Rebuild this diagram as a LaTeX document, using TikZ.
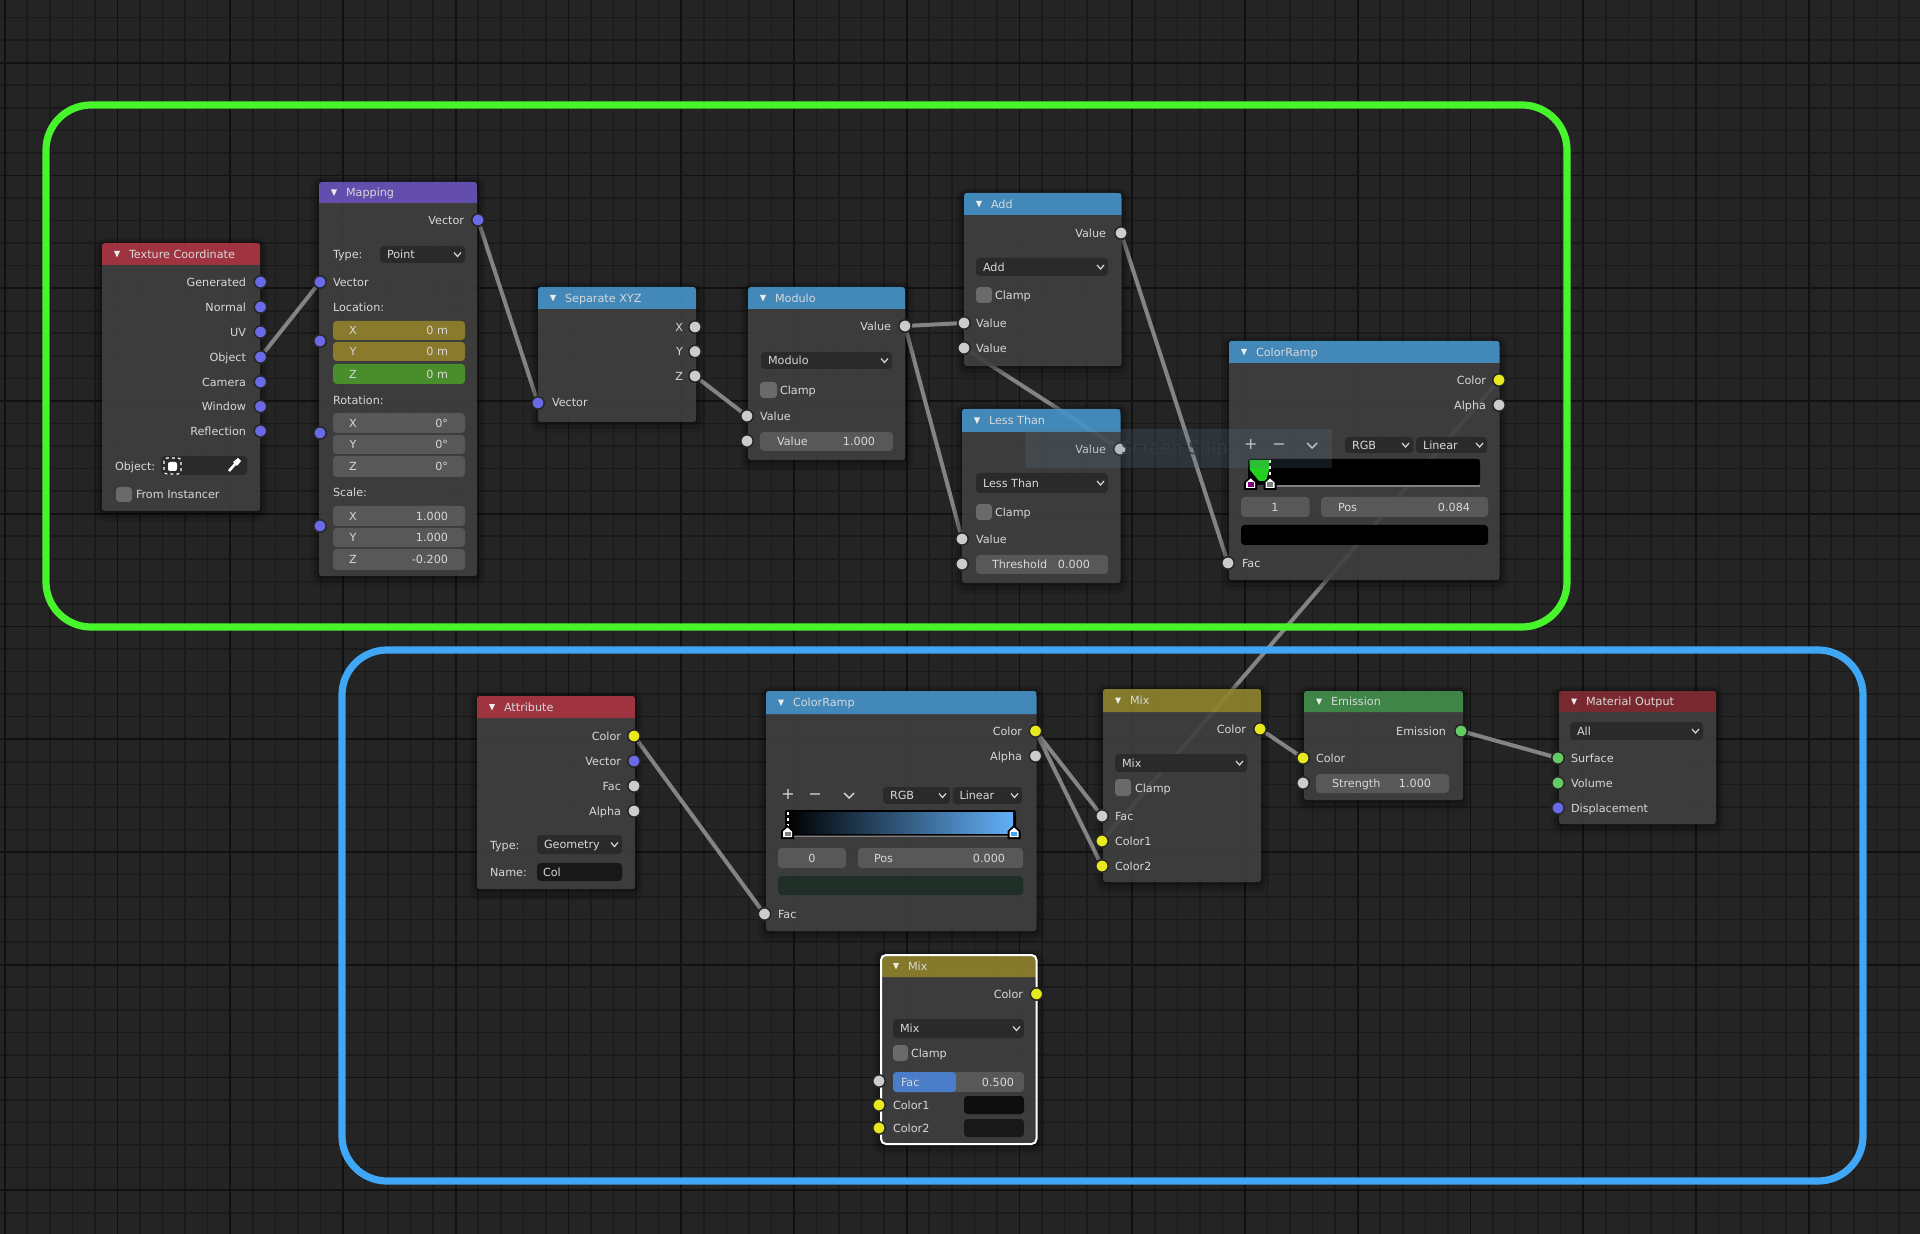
\documentclass[tikz,border=0pt]{standalone}
\usepackage{fontspec}
\setmainfont{DejaVu Sans}
\pgfdeclarelayer{wires}
\pgfsetlayers{wires,main}
\definecolor{bgc}{HTML}{242424}
\definecolor{minorc}{HTML}{1A1A1A}
\definecolor{majorc}{HTML}{111111}
\definecolor{bodyc}{HTML}{444444}
\definecolor{fieldc}{HTML}{585858}
\definecolor{dropc}{HTML}{2A2A2A}
\definecolor{checkc}{HTML}{6A6A6A}
\definecolor{wirec}{HTML}{848484}
\definecolor{txtc}{HTML}{D8D8D8}
\definecolor{redh}{HTML}{B83848}
\definecolor{purph}{HTML}{7058C6}
\definecolor{blueh}{HTML}{4A9CD4}
\definecolor{yelh}{HTML}{988A30}
\definecolor{greenh}{HTML}{469850}
\definecolor{darkredh}{HTML}{8A2E36}
\definecolor{sockv}{HTML}{6A6AE6}
\definecolor{sockg}{HTML}{CCCCCC}
\definecolor{socky}{HTML}{E8E81E}
\definecolor{socks}{HTML}{62CC62}
\definecolor{frameg}{HTML}{48F52C}
\definecolor{frameb}{HTML}{40A6F6}
\definecolor{yelf}{HTML}{8A7A2C}
\definecolor{greenf}{HTML}{4A8E2C}
\definecolor{barc}{HTML}{1F2F28}
\definecolor{facc}{HTML}{4A7CC8}
\definecolor{rampg}{HTML}{22D020}
\definecolor{rampb}{HTML}{62B0F8}
\definecolor{rampm}{HTML}{3E7FB8}
\definecolor{swa}{HTML}{0E0E0E}
\definecolor{swb}{HTML}{181818}
\definecolor{inkc}{HTML}{343A40}
\definecolor{snipc}{HTML}{5A7890}
\newcounter{tcnt}
\tikzset{
  minorline/.style={draw=minorc,line width=.8pt},
  majorline/.style={draw=majorc,line width=.9pt},
  txt/.style={inner sep=0pt,outer sep=0pt,text=txtc,font=\fontsize{5.6}{6}\selectfont},
  sock/.style={circle,inner sep=0pt,minimum size=6.2pt,draw=black!85,line width=.75pt},
  wire/.style={draw=wirec,line width=2pt},
  chev/.style={draw=txtc,line width=.6pt},
  frame/.style={line width=3.6pt,rounded corners=22.5pt}
}
\newcommand{\tL}[3]{\stepcounter{tcnt}\node[txt,anchor=mid west] (t\arabic{tcnt}) at ({#1},{#2-1}) {#3};}
\newcommand{\tR}[3]{\stepcounter{tcnt}\node[txt,anchor=mid east] (t\arabic{tcnt}) at ({#1},{#2-1}) {#3};}
\newcommand{\tC}[3]{\stepcounter{tcnt}\node[txt,anchor=mid] (t\arabic{tcnt}) at ({#1},{#2-1}) {#3};}
\newcommand{\wid}[5]{\fill[#5,rounded corners=1.8pt] (#1,#2) rectangle (#3,#4);}
% id x0 y0 x1 y1 headerbottom colour title
\newcommand{\bnode}[8]{%
  \fill[black,opacity=.10,rounded corners=5pt] (#2-8,#3-5) rectangle (#4+8,#5+11);
  \fill[black,opacity=.14,rounded corners=4pt] (#2-5,#3-3) rectangle (#4+5,#5+7);
  \fill[black,opacity=.20,rounded corners=3pt] (#2-2,#3-1) rectangle (#4+2,#5+3);
  \fill[bodyc,fill opacity=.84] (#2,#6) -- (#2,#5-6) .. controls (#2,#5) .. (#2+6,#5) -- (#4-6,#5) .. controls (#4,#5) .. (#4,#5-6) -- (#4,#6) -- cycle;
  \fill[#7,fill opacity=.86] (#2,#6) -- (#2,#3+6) .. controls (#2,#3) .. (#2+6,#3) -- (#4-6,#3) .. controls (#4,#3) .. (#4,#3+6) -- (#4,#6) -- cycle;
  \fill[white!92!black] (#2+12,{(#3+#6)/2-3}) -- (#2+18,{(#3+#6)/2-3}) -- (#2+15,{(#3+#6)/2+3.5}) -- cycle;
  \node[txt,anchor=mid west] (#1-title) at (#2+27,{(#3+#6)/2-1}) {#8};
}
\newcommand{\ddown}[5]{%
  \wid{#1}{#2}{#3}{#4}{dropc}
  \tL{#1+7}{(#2+#4)/2}{#5}
  \draw[chev] (#3-11,{(#2+#4)/2-2}) -- (#3-7.5,{(#2+#4)/2+2}) -- (#3-4,{(#2+#4)/2-2});
}
\newcommand{\ffield}[8]{%
  \wid{#1}{#2}{#3}{#4}{fieldc}
  \tL{#6}{(#2+#4)/2}{#5}
  \tR{#8}{(#2+#4)/2}{#7}
}
\newcommand{\mfield}[5]{%
  \wid{333}{#1}{465}{#2}{#5}
  \tC{353}{(#1+#2)/2}{#3}
  \tR{448}{(#1+#2)/2}{#4}
}
\newcommand{\chk}[4]{\wid{#1}{#2}{#3}{#4}{checkc}}
\newcommand{\sock}[4]{\node[sock,fill=#4] (#1) at (#2,#3) {};}
\newcommand{\rhandle}[3]{%
  \fill[black] (#1-6.5,#2+1) -- (#1-6.5,#2-7) -- (#1,#2-13) -- (#1+6.5,#2-7) -- (#1+6.5,#2+1) -- cycle;
  \fill[white] (#1-4.5,#2-1) -- (#1-4.5,#2-6.5) -- (#1,#2-10.5) -- (#1+4.5,#2-6.5) -- (#1+4.5,#2-1) -- cycle;
  \fill[#3] (#1-3,#2-2) rectangle (#1+3,#2-6.5);
}
\begin{document}
\begin{tikzpicture}[x=0.5pt,y=-0.5pt]
\useasboundingbox (0,0) rectangle (1920,1234);
\begin{pgfonlayer}{wires}
\fill[bgc] (0,0) rectangle (1920,1234);
\foreach \k in {0,...,85} \draw[minorline] ({4.7+22.55*\k},0) -- ({4.7+22.55*\k},1234);
\foreach \k in {3,...,57} \draw[minorline] (0,{-50.05+22.55*\k}) -- (1920,{-50.05+22.55*\k});
\foreach \k in {0,...,17} \draw[majorline] ({4.7+112.75*\k},0) -- ({4.7+112.75*\k},1234);
\foreach \k in {1,...,11} \draw[majorline] (0,{-50.05+112.75*\k}) -- (1920,{-50.05+112.75*\k});
\end{pgfonlayer}

% Texture Coordinate
\bnode{tc}{102}{243}{260}{511}{265}{redh}{Texture Coordinate}
\tR{246}{282}{Generated}\tR{246}{307}{Normal}\tR{246}{332}{UV}\tR{246}{357}{Object}
\tR{246}{382}{Camera}\tR{246}{406.5}{Window}\tR{246}{431}{Reflection}
\tL{115}{466}{Object:}
\wid{161}{456}{247}{475}{dropc}
\fill[white,rounded corners=1pt] (168,462) rectangle (177,471);
\draw[white,line width=.6pt,dash pattern=on 1.5pt off 1.5pt,rounded corners=1.5pt] (164,458) rectangle (181,474);
\draw[white,line width=1.3pt] (229,471) -- (236,463);
\fill[white] (233,462) -- (238,458) -- (241,461) -- (237,466) -- cycle;
\chk{116}{487}{132}{502}
\tL{136}{494}{From Instancer}
\sock{tcgen}{260.5}{282}{sockv}\sock{tcnor}{260.5}{307}{sockv}\sock{tcuv}{260.5}{332}{sockv}
\sock{tcobj}{260.5}{357}{sockv}\sock{tccam}{260.5}{382}{sockv}\sock{tcwin}{260.5}{406.5}{sockv}\sock{tcref}{260.5}{431}{sockv}

% Mapping
\bnode{mp}{319}{182}{477}{576}{203}{purph}{Mapping}
\tR{464}{220}{Vector}
\tL{333}{254}{Type:}
\ddown{380}{246}{465}{263}{Point}
\tL{333}{282}{Vector}
\tL{333}{307}{Location:}
\mfield{321}{340}{X}{0 m}{yelf}
\mfield{342}{361}{Y}{0 m}{yelf}
\mfield{364}{384}{Z}{0 m}{greenf}
\tL{333}{400}{Rotation:}
\mfield{413}{433}{X}{0°}{fieldc}
\mfield{435}{454}{Y}{0°}{fieldc}
\mfield{456}{477}{Z}{0°}{fieldc}
\tL{333}{492}{Scale:}
\mfield{506}{526}{X}{1.000}{fieldc}
\mfield{528}{547}{Y}{1.000}{fieldc}
\mfield{549}{570}{Z}{-0.200}{fieldc}
\sock{mpout}{478}{220}{sockv}\sock{mpvec}{320}{282}{sockv}\sock{mploc}{320}{341}{sockv}\sock{mprot}{320}{433}{sockv}\sock{mpsca}{320}{526}{sockv}

% Separate XYZ
\bnode{sx}{538}{287}{696}{422}{309}{blueh}{Separate XYZ}
\tR{683}{327}{X}\tR{683}{351}{Y}\tR{683}{376}{Z}\tL{552}{402}{Vector}
\sock{sxx}{695}{327}{sockg}\sock{sxy}{695}{351.5}{sockg}\sock{sxz}{695}{376}{sockg}\sock{sxvec}{538}{403}{sockv}

% Modulo
\bnode{mo}{748}{287}{905}{460}{309}{blueh}{Modulo}
\tR{891}{326}{Value}
\ddown{761}{352}{892}{369}{Modulo}
\chk{760}{382}{777}{398}
\tL{780}{390}{Clamp}
\tL{760}{416}{Value}
\ffield{760}{432}{893}{451}{Value}{777}{1.000}{875}
\sock{moout}{905}{326}{sockg}\sock{moa}{747}{416}{sockg}\sock{mob}{747}{441}{sockg}

% Add
\bnode{ad}{964}{193}{1121.5}{366}{215}{blueh}{Add}
\tR{1106}{233}{Value}
\ddown{976}{258}{1108}{276}{Add}
\chk{976}{287}{992}{303}
\tL{995}{295}{Clamp}
\tL{976}{323}{Value}\tL{976}{348}{Value}
\sock{adout}{1121}{233}{sockg}\sock{ada}{964}{323}{sockg}\sock{adb}{964}{348}{sockg}

% Less Than
\bnode{lt}{962}{409}{1120.5}{583}{432}{blueh}{Less Than}
\tR{1106}{449}{Value}
\ddown{976}{473}{1108}{493}{Less Than}
\chk{976}{504}{992}{520}
\tL{995}{512}{Clamp}
\tL{976}{539}{Value}
\ffield{976}{555}{1108}{574}{Threshold}{992}{0.000}{1090}
\sock{ltout}{1120}{449}{sockg}\sock{lta}{962}{539}{sockg}\sock{ltb}{962}{564}{sockg}

% ColorRamp (top)
\bnode{cr}{1229}{341}{1499.5}{580}{363}{blueh}{ColorRamp}
\tR{1486}{380}{Color}\tR{1486}{405}{Alpha}
\tC{1250.7}{445}{\fontsize{8}{8}\selectfont +}\tC{1279}{445}{\fontsize{8}{8}\selectfont −}
\draw[chev,line width=.7pt] (1307,443) -- (1312,448) -- (1317,443);
\ddown{1345}{437}{1413}{453}{RGB}
\ddown{1416}{437}{1487}{453}{Linear}
\fill[black,rounded corners=1.2pt] (1248,459) rectangle (1480,485);
\fill[rampg] (1249.5,460) -- (1269,460) -- (1269,470) -- (1266,481) -- (1259,481) -- (1250,470) -- cycle;
\draw[white,line width=1pt,dash pattern=on 1.5pt off 1.5pt] (1270,460) -- (1270,476);
\draw[gray,line width=.6pt] (1272,486) -- (1480,486);
\rhandle{1250.7}{489}{violet}
\rhandle{1270}{489}{gray}
\wid{1241}{497}{1309.6}{517}{fieldc}
\tC{1275}{507}{1}
\ffield{1321}{497}{1488}{517}{Pos}{1338}{0.084}{1470}
\wid{1241}{525}{1488}{545}{black}
\tL{1242}{563}{Fac}
\sock{crc}{1499}{380}{socky}\sock{cra}{1499}{405}{sockg}\sock{crf}{1228}{563}{sockg}

% Attribute
\bnode{at}{477}{696}{635}{889}{718}{redh}{Attribute}
\tR{621}{736}{Color}\tR{621}{761}{Vector}\tR{621}{786}{Fac}\tR{621}{811}{Alpha}
\tL{490}{845}{Type:}
\ddown{537}{835}{622}{854}{Geometry}
\tL{490}{872}{Name:}
\wid{537}{863}{622}{881}{swb}
\tL{543}{872}{Col}
\sock{atc}{634}{736}{socky}\sock{atv}{634}{761}{sockv}\sock{atf}{634}{786}{sockg}\sock{ata}{634}{811}{sockg}

% ColorRamp (bottom)
\bnode{cs}{766}{691}{1036.5}{931}{714}{blueh}{ColorRamp}
\tR{1022}{731}{Color}\tR{1022}{756}{Alpha}
\tC{788}{795}{\fontsize{8}{8}\selectfont +}\tC{815}{795}{\fontsize{8}{8}\selectfont −}
\draw[chev,line width=.7pt] (844,793) -- (849,798) -- (854,793);
\ddown{883}{787}{950}{804}{RGB}
\ddown{952.5}{787}{1022}{804}{Linear}
\fill[black,rounded corners=1.2pt] (785,810) rectangle (1016,835);
\shade[left color=black,middle color=rampm,right color=rampb] (788,812) rectangle (1013,833);
\draw[white,line width=1pt,dash pattern=on 1.5pt off 1.5pt] (787.5,812) -- (787.5,826);
\draw[gray,line width=.6pt] (790,836.5) -- (1012,836.5);
\rhandle{787.5}{838}{gray}
\rhandle{1014}{838}{frameb}
\wid{778}{848}{846}{868}{fieldc}
\tC{812}{858}{0}
\ffield{858}{848}{1023}{868}{Pos}{874}{0.000}{1005}
\wid{778}{876}{1023}{895}{barc}
\tL{778}{914}{Fac}
\sock{csc}{1035.5}{731}{socky}\sock{csa}{1035.5}{756}{sockg}\sock{csf}{764.5}{914}{sockg}

% Mix (top)
\bnode{mx}{1103}{689}{1261}{882}{712}{yelh}{Mix}
\tR{1246}{729}{Color}
\ddown{1115}{754}{1247}{772}{Mix}
\chk{1115}{779}{1131}{796}
\tL{1135}{788}{Clamp}
\tL{1115}{816}{Fac}\tL{1115}{841}{Color1}\tL{1115}{866}{Color2}
\sock{mxout}{1260}{729}{socky}\sock{mxf}{1102}{816}{sockg}\sock{mxa}{1102}{841}{socky}\sock{mxb}{1102}{866}{socky}

% Mix (selected)
\bnode{my}{881}{955}{1036.5}{1144}{977}{yelh}{Mix}
\tR{1023}{994}{Color}
\ddown{893}{1019}{1024}{1038}{Mix}
\chk{893}{1045}{908}{1061}
\tL{911}{1053}{Clamp}
\wid{893}{1072}{1024}{1092}{fieldc}
\wid{893}{1072}{956}{1092}{facc}
\tL{901}{1082}{Fac}\tR{1014}{1082}{0.500}
\tL{893}{1105}{Color1}\tL{893}{1128}{Color2}
\wid{964}{1096}{1024}{1114}{swa}
\wid{964}{1119}{1024}{1137}{swb}
\draw[white,line width=1pt,rounded corners=2.5pt] (881,955) rectangle (1036.5,1144);
\sock{myout}{1036.5}{994}{socky}\sock{myf}{879}{1081}{sockg}\sock{mya}{879}{1105}{socky}\sock{myb}{879}{1128}{socky}

% Emission
\bnode{em}{1304}{691}{1463}{800}{712}{greenh}{Emission}
\tR{1446}{731}{Emission}
\tL{1316}{758}{Color}
\ffield{1316}{774}{1449}{793}{Strength}{1332}{1.000}{1431}
\sock{emout}{1461}{731}{socks}\sock{emc}{1303}{758}{socky}\sock{ems}{1303}{783}{sockg}

% Material Output
\bnode{mo2}{1559}{691}{1716}{824}{712}{darkredh}{Material Output}
\ddown{1570}{722}{1703}{740}{All}
\tL{1571}{758}{Surface}\tL{1571}{783}{Volume}\tL{1571}{808}{Displacement}
\sock{ous}{1558}{758}{socks}\sock{ouv}{1558}{783}{socks}\sock{oud}{1558}{808}{sockv}

% connectors (below the nodes)
\begin{pgfonlayer}{wires}
\draw[wire] (tcobj) -- (mpvec);
\draw[wire] (mpout) -- (sxvec);
\draw[wire] (sxz) -- (moa);
\draw[wire] (moout) -- (ada);
\draw[wire] (moout) -- (lta);
\draw[wire] (ltout) -- (adb);
\draw[wire] (adout) -- (crf);
\draw[wire] (crc) -- (mxa);
\draw[wire] (atc) -- (csf);
\draw[wire] (csc) -- (mxf);
\draw[wire] (csc) -- (mxb);
\draw[wire] (mxout) -- (emc);
\draw[wire] (emout) -- (ous);
\end{pgfonlayer}

% frames
\draw[frameg,frame] (46,105) rectangle (1567,627);
\draw[frameb,frame] (342,650) rectangle (1863,1181);

% screen snip overlay
\fill[snipc,opacity=.2] (1024.5,429) rectangle (1332,468);
\node[txt,anchor=mid west,text=inkc,font=\fontsize{9}{10}\selectfont] (snip) at (1121,449) {Screen Snip};
\end{tikzpicture}
\end{document}
